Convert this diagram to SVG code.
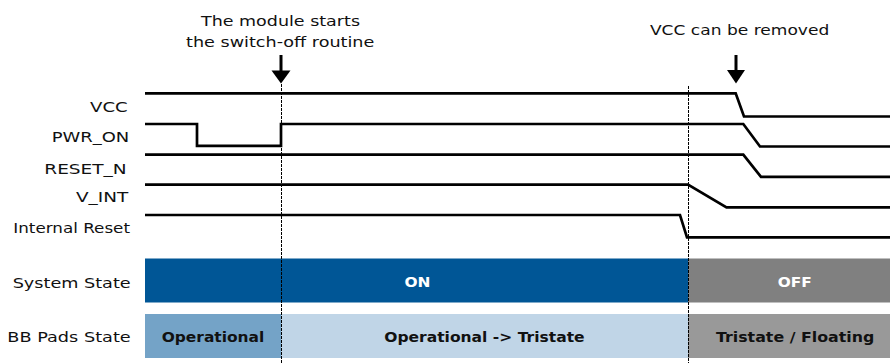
<svg xmlns="http://www.w3.org/2000/svg" width="890" height="363" viewBox="0 0 890 363">
<style>
.lbl{font-family:"DejaVu Sans","Liberation Sans",sans-serif;font-size:14.5px;fill:#111;text-anchor:end}
.ann{font-family:"DejaVu Sans","Liberation Sans",sans-serif;font-size:14.5px;fill:#111;text-anchor:middle}
.bt{font-family:"DejaVu Sans","Liberation Sans",sans-serif;font-size:14.5px;font-weight:bold;text-anchor:middle}
.sig{fill:none;stroke:#000;stroke-width:2.7;stroke-linejoin:miter}
.dash{stroke:#000;stroke-width:1;stroke-dasharray:3 1}
.arw{fill:#000}
</style>
<rect width="890" height="363" fill="#fff"/>
<g id="bars">
<g id="sys-on"><rect x="145" y="258.5" width="543" height="44" fill="#005696"/><text class="bt" x="417.5" y="286.7" fill="#fff" textLength="26" lengthAdjust="spacingAndGlyphs">ON</text></g>
<g id="sys-off"><rect x="688" y="258.5" width="202" height="44" fill="#808080"/><text class="bt" x="794.7" y="286.7" fill="#fff" textLength="34" lengthAdjust="spacingAndGlyphs">OFF</text></g>
<g id="bb-op"><rect x="145" y="314" width="136" height="44" fill="#74a3c7"/><text class="bt" x="213" y="341.7" fill="#111" textLength="102.6" lengthAdjust="spacingAndGlyphs">Operational</text></g>
<g id="bb-optri"><rect x="281" y="314" width="407" height="44" fill="#c0d5e7"/><text class="bt" x="484.4" y="341.7" fill="#111" textLength="200.4" lengthAdjust="spacingAndGlyphs">Operational -&gt; Tristate</text></g>
<g id="bb-tri"><rect x="688" y="314" width="202" height="44" fill="#999999"/><text class="bt" x="795.1" y="341.7" fill="#111" textLength="158.3" lengthAdjust="spacingAndGlyphs">Tristate / Floating</text></g>
</g>
<g id="labels">
<text class="lbl" x="127.7" y="111.7" textLength="37.7" lengthAdjust="spacingAndGlyphs">VCC</text>
<text class="lbl" x="129.3" y="142.3" textLength="77.6" lengthAdjust="spacingAndGlyphs">PWR_ON</text>
<text class="lbl" x="126.7" y="174.3" textLength="82.4" lengthAdjust="spacingAndGlyphs">RESET_N</text>
<text class="lbl" x="128.3" y="202.3" textLength="52.3" lengthAdjust="spacingAndGlyphs">V_INT</text>
<text class="lbl" x="130" y="233.3" textLength="116.7" lengthAdjust="spacingAndGlyphs">Internal Reset</text>
<text class="lbl" x="130.7" y="288.3" textLength="118" lengthAdjust="spacingAndGlyphs">System State</text>
<text class="lbl" x="130.7" y="342.3" textLength="123.4" lengthAdjust="spacingAndGlyphs">BB Pads State</text>
</g>
<g id="connectors">
<g id="vcc"><path class="sig" d="M145,93.3 H735.7 L744,116.5 H890"/></g>
<g id="pwr_on"><path class="sig" d="M145,124 H197 V145.8 H281 V124 H743.3 L760,146.5 H890"/></g>
<g id="reset_n"><path class="sig" d="M145,154.6 H743.3 L761,176.8 H890"/></g>
<g id="v_int"><path class="sig" d="M145,184.6 H688 L726.5,207.3 H890"/></g>
<g id="internal_reset"><path class="sig" d="M145,215 H680 L687,237.3 H890"/></g>
<line class="dash" x1="281.5" y1="84" x2="281.5" y2="363"/>
<line class="dash" x1="688.5" y1="86" x2="688.5" y2="363"/>
</g>
<g id="ann1">
<text class="ann" x="280.5" y="26" textLength="159" lengthAdjust="spacingAndGlyphs">The module starts</text>
<text class="ann" x="280.2" y="46.7" textLength="188.3" lengthAdjust="spacingAndGlyphs">the switch-off routine</text>
<line x1="281" y1="55" x2="281" y2="72" stroke="#000" stroke-width="3"/>
<polygon class="arw" points="271.5,70.5 290.5,70.5 281,83.5"/>
</g>
<g id="ann2">
<text class="ann" x="739.6" y="35" textLength="179.3" lengthAdjust="spacingAndGlyphs">VCC can be removed</text>
<line x1="736" y1="55" x2="736" y2="72" stroke="#000" stroke-width="3"/>
<polygon class="arw" points="727,70 745,70 736,83.5"/>
</g>
</svg>
